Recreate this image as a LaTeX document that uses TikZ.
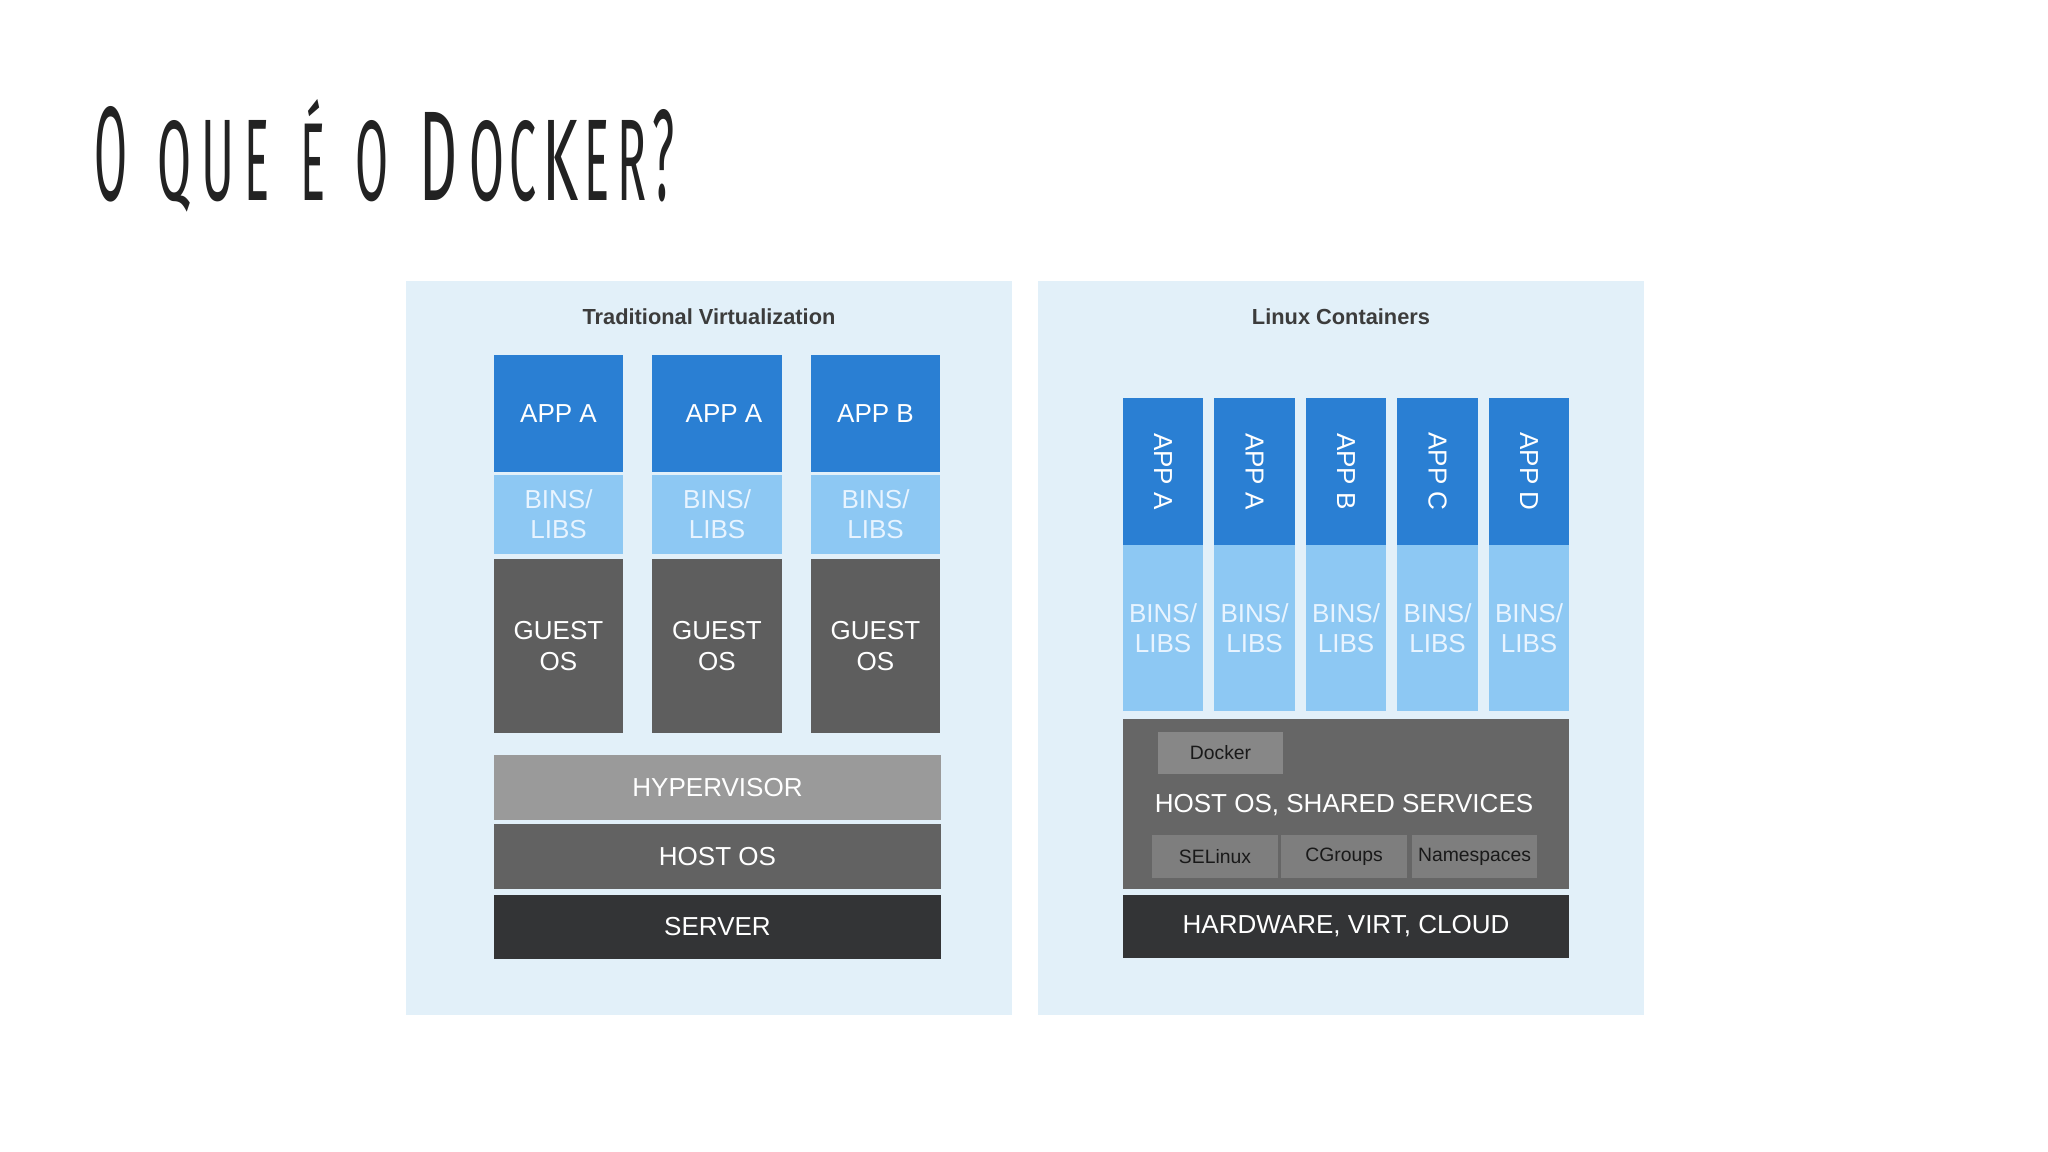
\documentclass[tikz,border=0pt]{standalone}
\usepackage{fontspec}
\setmainfont{Liberation Sans}
\newfontfamily\titlefont{Fira Sans}
\usepackage{graphicx}
\definecolor{panelbg}{HTML}{E2F0F9}
\definecolor{appblue}{HTML}{2A7FD3}
\definecolor{binsblue}{HTML}{8DC8F3}
\definecolor{binstext}{HTML}{E8F4FF}
\definecolor{guestgrey}{HTML}{5E5E5E}
\definecolor{hypergrey}{HTML}{9A9A9A}
\definecolor{hostgrey}{HTML}{626262}
\definecolor{servergrey}{HTML}{333436}
\definecolor{sharedgrey}{HTML}{666666}
\definecolor{dockergrey}{HTML}{878787}
\definecolor{subgrey}{HTML}{7E7E7E}
\definecolor{paneltitle}{HTML}{3C3C3C}
\definecolor{titleink}{HTML}{222222}
\newcommand\lblfont{\fontsize{7.4}{8.6}\selectfont}
\newcommand\smallfont{\fontsize{5.5}{6.5}\selectfont}
\newcommand\ptitlefont{\fontsize{6.2}{7}\selectfont\bfseries}
\tikzset{
  panel/.style={fill=panelbg, inner sep=0, outer sep=0},
  cell/.style={inner sep=0, outer sep=0, text=white, align=center, font=\lblfont},
  appcell/.style={cell, fill=appblue},
  binscell/.style={cell, fill=binsblue, text=binstext},
  guestcell/.style={cell, fill=guestgrey},
  lcol/.style={minimum width=1.29cm},
  rcol/.style={minimum width=0.80cm},
  wide/.style={minimum width=4.47cm},
  subbox/.style={inner sep=0, outer sep=0, fill=subgrey, text=black!90, font=\smallfont},
  ptitle/.style={inner sep=0, text=paneltitle, font=\ptitlefont},
  tl/.style={inner sep=0, outer sep=0, anchor=base west, text=titleink, font=\titlefont}
}
\begin{document}
\begin{tikzpicture}[x=0.01cm, y=-0.01cm]
\useasboundingbox (0,0) rectangle (2048,1152);
\fill[white] (0,0) rectangle (2048,1152);

% ---- title: O que é o Docker? ----
\node[tl] (t1) at (94,201) {\resizebox{0.33cm}{0.94cm}{O}};
\node[tl] (t2) at (157,201) {\resizebox{0.34cm}{0.80cm}{Q}};
\node[tl] (t3) at (201,201) {\resizebox{0.33cm}{0.80cm}{U}};
\node[tl] (t4) at (244,201) {\resizebox{0.25cm}{0.80cm}{E}};
\node[tl] (t5) at (300,201) {\resizebox{0.25cm}{1.01cm}{É}};
\node[tl] (t6) at (355,201) {\resizebox{0.33cm}{0.80cm}{O}};
\node[tl] (t7) at (419,201) {\resizebox{0.38cm}{0.88cm}{D}};
\node[tl] (t8) at (469,201) {\resizebox{0.35cm}{0.80cm}{O}};
\node[tl] (t9) at (509,201) {\resizebox{0.27cm}{0.80cm}{C}};
\node[tl] (t10) at (542,201) {\resizebox{0.36cm}{0.80cm}{K}};
\node[tl] (t11) at (584,201) {\resizebox{0.25cm}{0.80cm}{E}};
\node[tl] (t12) at (617,201) {\resizebox{0.29cm}{0.80cm}{R}};
\node[tl] (t13) at (652,201) {\resizebox{0.22cm}{0.91cm}{?}};

% ---- panels ----
\node[panel, minimum width=6.06cm, minimum height=7.34cm] (lp) at (709,648) {};
\node[panel, minimum width=6.06cm, minimum height=7.34cm] (rp) at (1341,648) {};
\node[ptitle] (lpt) at (709,317) {Traditional Virtualization};
\node[ptitle] (rpt) at (1341,317) {Linux Containers};

% ---- traditional virtualization ----
\node[appcell, lcol, minimum height=1.17cm] (a1) at (558.5,413.5) {APP A};
\node[appcell, lcol, minimum height=1.17cm] (a2) at (717,413.5) {\hspace*{4pt}APP A};
\node[appcell, lcol, minimum height=1.17cm] (a3) at (875.5,413.5) {APP B};
\node[binscell, lcol, minimum height=0.79cm] (b1) at (558.5,514.5) {BINS/\\LIBS};
\node[binscell, lcol, minimum height=0.79cm] (b2) at (717,514.5) {BINS/\\LIBS};
\node[binscell, lcol, minimum height=0.79cm] (b3) at (875.5,514.5) {BINS/\\LIBS};
\node[guestcell, lcol, minimum height=1.74cm] (g1) at (558.5,646) {GUEST\\OS};
\node[guestcell, lcol, minimum height=1.74cm] (g2) at (717,646) {GUEST\\OS};
\node[guestcell, lcol, minimum height=1.74cm] (g3) at (875.5,646) {GUEST\\OS};
\node[cell, wide, fill=hypergrey, minimum height=0.65cm] (hyp) at (717.5,787.5) {HYPERVISOR};
\node[cell, wide, fill=hostgrey, minimum height=0.65cm] (hos) at (717.5,856.5) {HOST OS};
\node[cell, wide, fill=servergrey, minimum height=0.64cm] (srv) at (717.5,927) {SERVER};

% ---- linux containers ----
\foreach \n/\c/\t in {1/1163/A, 2/1254.5/A, 3/1346/B, 4/1437.5/C, 5/1529/D}{
  \node[appcell, rcol, minimum height=1.47cm] (ra\n) at (\c,471.5) {};
  \node[cell, rotate=-90] (rat\n) at (ra\n.center) {APP \t};
  \node[binscell, rcol, minimum height=1.66cm] (rb\n) at (\c,628) {BINS/\\LIBS};
}
\node[cell, minimum width=4.46cm, minimum height=1.70cm, fill=sharedgrey] (shr) at (1346,804) {};
\node[subbox, fill=dockergrey, minimum width=1.25cm, minimum height=0.42cm] (dock) at (1220.5,753) {Docker};
\node[cell] (shrt) at (1344,805) {HOST OS, SHARED SERVICES};
\node[subbox, minimum width=1.26cm, minimum height=0.43cm] (sel) at (1215,856.5) {SELinux};
\node[subbox, minimum width=1.26cm, minimum height=0.43cm] (cgr) at (1344,856.5) {CGroups};
\node[subbox, minimum width=1.25cm, minimum height=0.43cm] (nsp) at (1474.5,856.5) {Namespaces};
\node[cell, minimum width=4.46cm, minimum height=0.63cm, fill=servergrey] (hw) at (1346,926.5) {HARDWARE, VIRT, CLOUD};
\end{tikzpicture}
\end{document}
